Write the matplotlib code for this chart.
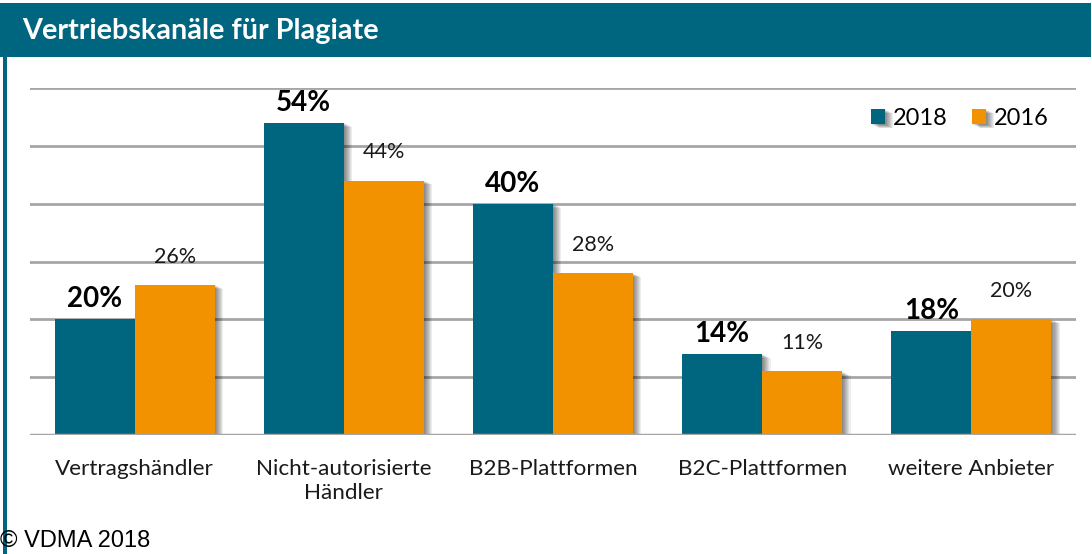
import matplotlib
matplotlib.use("Agg")
import matplotlib.pyplot as plt
import matplotlib.patheffects as pe
from matplotlib.patches import Rectangle
import numpy as np

categories = ["Vertragshändler", "Nicht-autorisierte\nHändler", "B2B-Plattformen",
              "B2C-Plattformen", "weitere Anbieter"]
series_names = ["2018", "2016"]
values_2018 = [20, 54, 40, 14, 18]
values_2016 = [26, 44, 28, 11, 20]
title = "Vertriebskanäle für Plagiate"
source = "© VDMA 2018"

TEAL = "#00657F"
ORANGE = "#F39200"
GRID = "#A6A6A6"
FONT = "Lato"

W, H = 1092, 554
fig = plt.figure(figsize=(W / 100, H / 100), dpi=100)
fig.patch.set_facecolor("white")

def fx(px):
    return px / W

def fy(py):
    return 1 - py / H

# title bar
fig.patches.append(Rectangle((0, fy(57)), fx(1091), (57 - 3) / H, transform=fig.transFigure,
                             facecolor=TEAL, edgecolor="none", zorder=0))
fig.text(fx(22), fy(31), title, color="white", fontsize=20.7, fontweight="bold",
         family=FONT, va="center", ha="left")
# left border
fig.patches.append(Rectangle((fx(3), 0), fx(3.5), fy(57), transform=fig.transFigure,
                             facecolor=TEAL, edgecolor="none", zorder=0))

ax = fig.add_axes([fx(30), fy(435), fx(1076 - 30), (435 - 88) / H])
ax.set_xlim(-0.5, len(categories) - 0.5)
ax.set_ylim(0, 60)
ax.set_yticks(np.arange(0, 61, 10))
ax.yaxis.grid(True, color=GRID, linewidth=2)
ax.set_axisbelow(True)
for s in ax.spines.values():
    s.set_visible(False)
ax.tick_params(axis="both", length=0)
ax.set_yticklabels([])

x = np.arange(len(categories))
bw = 80 / 209.2

shadow = [pe.SimplePatchShadow(offset=(d * 0.75, -d * 0.35), shadow_rgbFace="black", alpha=0.07)
          for d in range(1, 9)] + [pe.Normal()]

b1 = ax.bar(x - bw / 2, values_2018, bw, color=TEAL, label=series_names[0], zorder=3)
b2 = ax.bar(x + bw / 2, values_2016, bw, color=ORANGE, label=series_names[1], zorder=3)
for r in list(b1) + list(b2):
    r.set_path_effects(shadow)

ax.axhline(0, color=GRID, linewidth=2.5, zorder=5)

for xi, v in zip(x, values_2018):
    ax.annotate(f"{v}%", (xi - bw / 2, v), xytext=(0, 5), textcoords="offset points",
                ha="center", va="bottom", fontsize=20, fontweight="bold", family=FONT, color="black")
for xi, v in zip(x, values_2016):
    ax.annotate(f"{v}%", (xi + bw / 2, v), xytext=(0, 13), textcoords="offset points",
                ha="center", va="bottom", fontsize=15.5, family=FONT, color="#1a1a1a")

ax.set_xticks(x)
ax.set_xticklabels(categories, fontsize=16.2, family=FONT, color="#1a1a1a", linespacing=1.25)
ax.tick_params(axis="x", pad=17)

leg = ax.legend(loc="upper right", bbox_to_anchor=(0.990, 0.99), frameon=False,
                prop={"family": FONT, "size": 17}, ncol=2, handlelength=0.6, handleheight=0.6,
                handletextpad=0.35, columnspacing=1.0, borderaxespad=0.3)

fig.text(fx(0), fy(552), source, family="Liberation Sans", fontsize=17, ha="left", va="bottom",
         color="black")

fig.savefig("out.png", dpi=100, facecolor="white")
